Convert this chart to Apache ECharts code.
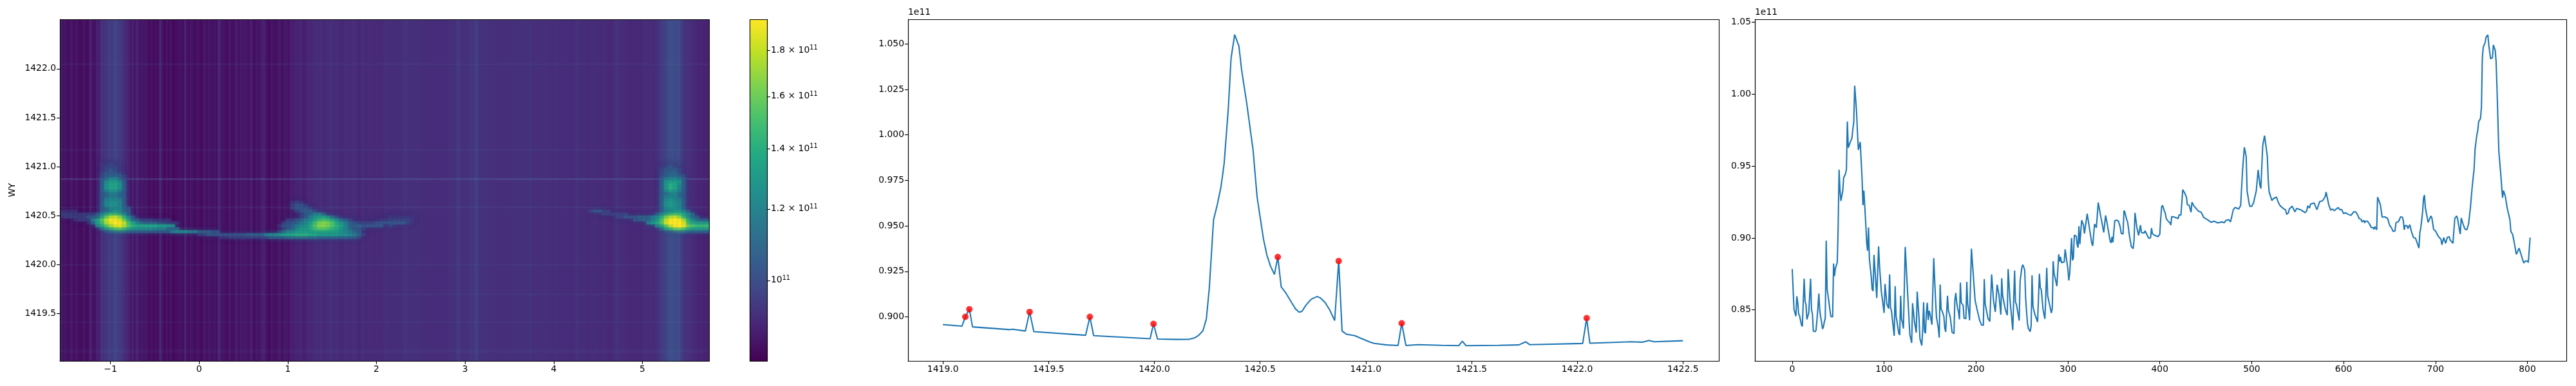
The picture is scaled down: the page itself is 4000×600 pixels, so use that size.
<!DOCTYPE html>
<html><head><meta charset="utf-8">
<script src="https://cdn.jsdelivr.net/npm/echarts@6/dist/echarts.min.js"></script>
<style>html,body{margin:0;padding:0;background:#fff}#c{width:4000px;height:600px}</style>
</head><body><div id="c"></div>
<script>
// ---- data (brightness in units of 1e11) ----
const freqProfile=[[1419,.8958],[1419.09,.8949],[1419.106,.9],[1419.125,.9042],[1419.14,.8945],[1419.316,.893],[1419.33,.8932],[1419.39,.8922],[1419.41,.9027],[1419.43,.8919],[1419.675,.8899],[1419.695,.9],[1419.713,.8897],[1419.98,.888],[1419.996,.8961],[1420.015,.8878],[1420.105,.8876],[1420.165,.8877],[1420.19,.8884],[1420.21,.8899],[1420.23,.8924],[1420.246,.8989],[1420.26,.9158],[1420.28,.9533],[1420.298,.9618],[1420.315,.9713],[1420.33,.9841],[1420.35,1.0146],[1420.363,1.0423],[1420.38,1.0551],[1420.4,1.0488],[1420.413,1.0355],[1420.437,1.0173],[1420.467,.9916],[1420.486,.9659],[1420.5,.9551],[1420.516,.9429],[1420.532,.9341],[1420.549,.928],[1420.568,.9233],[1420.584,.9329],[1420.6,.9165],[1420.622,.9131],[1420.65,.9077],[1420.668,.9043],[1420.685,.9026],[1420.698,.903],[1420.717,.9064],[1420.742,.9097],[1420.77,.9112],[1420.785,.9104],[1420.807,.908],[1420.83,.9037],[1420.853,.898],[1420.872,.9307],[1420.888,.8922],[1420.908,.8905],[1420.948,.8897],[1420.98,.8881],[1421.016,.8863],[1421.04,.8854],[1421.098,.8846],[1421.153,.8843],[1421.17,.8965],[1421.19,.8843],[1421.248,.8847],[1421.357,.8844],[1421.44,.8842],[1421.457,.8866],[1421.474,.8842],[1421.63,.8844],[1421.724,.8846],[1421.757,.8863],[1421.776,.8847],[1422.026,.8854],[1422.045,.8993],[1422.06,.8855],[1422.255,.8863],[1422.31,.8861],[1422.34,.887],[1422.364,.8863],[1422.5,.8869]];
const peakFreq=[1419.106,1419.125,1419.41,1419.695,1419.996,1420.584,1420.872,1421.17,1422.045];
const peakVal=[.9,.9042,.9027,.9,.8961,.9329,.9307,.8965,.8993];
const peakStripe=[.07,.07,.08,.08,.09,.12,.3,.1,.1];
const timeProfile=[[0,.8784],[2,.8501],[3,.8479],[4,.8456],[5,.8595],[6,.8553],[7,.8471],[8,.846],[10,.8397],[11,.8385],[12,.839],[13,.8717],[14,.856],[15,.8538],[16,.8434],[18,.8479],[20,.8717],[21,.8501],[22,.8471],[23,.8352],[24,.836],[25,.8349],[26,.836],[27,.8352],[28,.8516],[29,.8613],[30,.8494],[31,.8449],[32,.8412],[33,.8367],[34,.8382],[35,.8419],[36,.8442],[37,.8982],[38,.8643],[40,.8553],[41,.8501],[42,.8454],[44,.8452],[45,.8822],[46,.8735],[47,.8789],[48,.8792],[49,.8829],[50,.9076],[51,.9475],[52,.9329],[53,.9258],[54,.9258],[55,.9329],[56,.9419],[58,.9446],[59,.9478],[60,.981],[61,.9628],[62,.9631],[63,.9665],[65,.9695],[66,.9757],[67,.9807],[68,1.006],[70,.9881],[71,.9732],[72,.9613],[73,.961],[74,.9668],[76,.9419],[77,.9228],[78,.9329],[80,.9105],[81,.8971],[82,.8911],[83,.9073],[84,.8852],[86,.8733],[87,.8643],[88,.8631],[89,.8882],[91,.8688],[92,.8583],[93,.8576],[94,.8941],[95,.8807],[97,.8627],[98,.858],[99,.8577],[100,.8479],[101,.868],[102,.868],[103,.8541],[104,.8538],[105,.8509],[106,.8747],[107,.8516],[108,.8494],[109,.8434],[111,.832],[112,.8665],[113,.8456],[114,.8419],[116,.8337],[117,.8325],[118,.8598],[119,.8434],[120,.8412],[121,.837],[123,.8938],[125,.8688],[127,.8449],[128,.8329],[130,.827],[131,.8546],[133,.8419],[134,.8419],[135,.8342],[136,.8627],[138,.8442],[139,.83],[141,.8252],[142,.836],[143,.8553],[144,.8352],[145,.8337],[146,.8479],[147,.855],[148,.8429],[149,.8494],[150,.8471],[152,.8397],[154,.886],[156,.8568],[157,.8449],[159,.8374],[160,.8307],[161,.8676],[162,.8506],[163,.8494],[165,.8456],[166,.8374],[167,.8347],[169,.8598],[170,.8494],[172,.8449],[174,.8344],[176,.8334],[177,.8568],[178,.8618],[179,.8553],[180,.8512],[181,.8486],[182,.8434],[183,.869],[184,.855],[186,.8531],[187,.8442],[189,.8439],[190,.8695],[191,.8538],[192,.8494],[193,.8427],[195,.8926],[198,.8657],[199,.8568],[201,.8508],[202,.8508],[204,.8426],[205,.8426],[206,.8396],[208,.8392],[209,.8714],[210,.8541],[212,.8475],[213,.8441],[215,.8419],[217,.8747],[219,.8568],[221,.8486],[223,.8675],[225,.8605],[227,.8466],[228,.872],[229,.8598],[230,.8595],[232,.8501],[234,.8463],[235,.8784],[237,.8568],[239,.8433],[240,.8359],[242,.8774],[243,.8553],[244,.8538],[247,.8426],[248,.8702],[250,.8799],[251,.8814],[253,.8777],[254,.8583],[256,.8404],[257,.837],[258,.8362],[259,.8349],[260,.8389],[261,.874],[262,.8523],[264,.847],[267,.8416],[269,.8751],[270,.8654],[271,.8642],[273,.85],[275,.8437],[276,.8441],[277,.8792],[278,.8598],[279,.8595],[282,.8478],[283,.8508],[284,.8839],[285,.8754],[288,.8665],[290,.8886],[291,.8836],[292,.8869],[293,.8829],[296,.8833],[297,.8921],[299,.8829],[300,.8784],[301,.8705],[302,.8754],[303,.8754],[304,.9],[305,.8844],[306,.8863],[307,.902],[309,.9012],[310,.8956],[311,.8933],[312,.9082],[313,.8956],[315,.9123],[317,.909],[318,.9031],[321,.9169],[324,.9045],[326,.8963],[327,.8945],[329,.9097],[331,.9072],[333,.9247],[334,.9239],[336,.9142],[339,.9038],[340,.903],[341,.9157],[343,.909],[346,.8978],[347,.8966],[348,.9008],[349,.897],[351,.912],[353,.9124],[355,.9117],[357,.9075],[358,.9033],[360,.9027],[361,.9191],[362,.918],[364,.9127],[365,.9112],[367,.9015],[369,.8941],[371,.8926],[372,.8986],[373,.9175],[375,.9075],[377,.9018],[379,.909],[380,.9038],[383,.9035],[384,.905],[386,.9023],[388,.8997],[390,.9003],[391,.9068],[392,.903],[394,.902],[396,.9015],[398,.9008],[400,.9027],[401,.9135],[402,.9217],[403,.9227],[405,.9187],[406,.9172],[407,.9135],[409,.9117],[411,.9105],[412,.909],[413,.915],[416,.9145],[420,.9135],[421,.9161],[423,.916],[425,.9336],[427,.9314],[429,.9284],[430,.9232],[432,.9227],[434,.9179],[435,.9249],[437,.9224],[438,.9217],[442,.9187],[445,.9179],[448,.9142],[452,.9127],[456,.9109],[459,.9117],[463,.9105],[468,.9112],[470,.9105],[472,.9123],[475,.9127],[477,.9112],[480,.9197],[482,.9212],[483,.9212],[486,.9202],[488,.9227],[490,.9463],[492,.9631],[494,.9567],[495,.9329],[497,.9247],[498,.922],[500,.922],[502,.9245],[503,.9243],[505,.9329],[507,.9473],[509,.9366],[510,.9344],[512,.9642],[514,.9712],[515,.9709],[517,.9567],[518,.9403],[519,.9321],[520,.9317],[522,.9261],[524,.9276],[525,.9273],[527,.9284],[529,.9247],[531,.9224],[535,.9202],[537,.9195],[538,.9164],[540,.9175],[541,.9202],[542,.9194],[544,.9221],[545,.9218],[547,.9182],[549,.9206],[552,.9199],[554,.9194],[555,.9197],[558,.9176],[560,.9191],[561,.9224],[563,.9209],[564,.9236],[568,.9243],[570,.9212],[571,.9197],[574,.9254],[577,.9258],[580,.9287],[581,.932],[582,.9314],[584,.9227],[586,.9194],[588,.9201],[590,.919],[594,.9212],[596,.9197],[598,.9197],[600,.9169],[602,.9176],[604,.9168],[608,.9157],[611,.9182],[613,.9182],[615,.9165],[616,.9167],[617,.9135],[619,.913],[620,.9112],[622,.9122],[623,.9105],[624,.9117],[626,.9117],[629,.909],[630,.9072],[632,.9072],[633,.906],[634,.9079],[636,.9057],[637,.9284],[638,.9279],[640,.9232],[642,.9145],[645,.9147],[646,.915],[648,.9135],[649,.9132],[650,.909],[652,.9072],[654,.9045],[656,.905],[657,.9105],[660,.9117],[662,.9147],[664,.9145],[665,.912],[666,.9057],[667,.9087],[669,.9086],[670,.9065],[672,.9093],[674,.9042],[675,.9035],[676,.9003],[678,.9],[679,.8986],[680,.8993],[681,.8948],[682,.8929],[683,.9038],[684,.9068],[686,.918],[687,.9276],[688,.9299],[689,.9209],[692,.9109],[693,.9109],[695,.9153],[696,.9142],[698,.906],[699,.9063],[700,.9049],[701,.9055],[703,.9012],[706,.899],[707,.8953],[708,.8948],[709,.9003],[710,.9],[711,.8963],[713,.9005],[715,.9008],[716,.8986],[717,.8989],[719,.8963],[720,.896],[721,.9135],[723,.9154],[724,.9135],[726,.906],[727,.9027],[728,.9139],[730,.9097],[732,.9063],[734,.9056],[736,.9097],[738,.9209],[740,.9359],[742,.9478],[743,.9612],[745,.9717],[746,.9746],[747,.981],[749,.9831],[750,.991],[751,1.0254],[752,1.0328],[754,1.0358],[755,1.0396],[756,1.0403],[757,1.0413],[758,1.0343],[760,1.0246],[762,1.0254],[763,1.0343],[765,1.0306],[766,1.0224],[767,1.003],[768,.9806],[769,.9597],[771,.9448],[772,.9359],[773,.928],[774,.9329],[776,.9291],[778,.9209],[781,.9127],[782,.9048],[784,.9023],[785,.8993],[786,.8993],[788,.8886],[789,.8893],[791,.8929],[793,.8888],[794,.8884],[796,.8826],[797,.8826],[798,.8841],[799,.8847],[800,.884],[801,.8829],[802,.8829],[803,.9003]];
const heatLevels={0:.9,1:.95,2:1,3:1.05,4:1.1,5:1.15,6:1.2,7:1.25,8:1.3,9:1.35,a:1.4,b:1.45,c:1.5,d:1.55,e:1.6,f:1.65,g:1.7,h:1.75,i:1.8,j:1.85,k:1.9,l:1.95};
// [row, first column, levels] for the emission arc on the left and middle of the image
const arcRuns=[[0,9,"11211"],[1,9,"12221"],[2,9,"12321"],[3,9,"23332"],[4,9,"233332"],[5,9,"346642"],[6,9,"368863"],[7,9,"379973"],[8,9,"379973"],[9,9,"357753"],[10,9,"345543"],[11,9,"345543"],[12,9,"356653"],[13,9,"367763"],[13,52,"121"],[14,9,"367763"],[14,52,"2332"],[15,9,"3466643"],[15,52,"23332"],[16,0,"1111"],[16,9,"3457643"],[16,53,"23442"],[17,0,"222222223"],[17,9,"5799753"],[17,54,"234553"],[18,0,"12222233"],[18,8,"47cghe953"],[18,54,"235788642"],[18,74,"111111"],[19,3,"1222"],[19,7,"58chkkic743"],[19,18,"2221111"],[19,51,"2234568aba86432"],[19,72,"11222221"],[20,6,"148bgjlkhb8543"],[20,20,"3322111"],[20,50,"2334568befec97543222233333"],[20,76,"3321"],[21,8,"58bfijgca999998876"],[21,49,"13345679cffeca8644433333 21"],[22,9,"468ab9766666555444"],[22,50,"2346889bccba9764332"],[23,10,"23444333333333"],[23,24,"456665544433"],[23,49,"2456788888888876543"],[24,31,"22333333333444"],[24,45,"45667899aaa9988888776542"],[25,36,"1122222222"],[25,46,"2333344444443333333332"]];
// same for the bright feature at the right of the image
const edgeRuns=[[0,19,"121"],[1,18,"12321"],[2,18,"23332"],[3,18,"23442"],[4,18,"234432"],[5,18,"356653"],[6,18,"378873"],[7,18,"37a963"],[8,18,"37a963"],[9,18,"368753"],[10,18,"345643"],[11,18,"356643"],[12,18,"367653"],[13,18,"378763"],[14,18,"378763"],[15,18,"367763"],[16,2,"23322"],[16,18,"3567753"],[17,5,"222222"],[17,17,"3579aa864"],[18,8,"2233344"],[18,15,"4569dghe9643"],[19,12,"334457bhklkf96433"],[20,15,"579cilllia87777"],[21,17,"57bgkljdcbbbb"],[22,18,"479bca877777"],[23,20,"2344333333"]];
const heatXTicks=[-1,0,1,2,3,4,5];
const heatYTicks=[1419.5,1420,1420.5,1421,1421.5,1422];
const barTicks=[1,1.2,1.4,1.6,1.8];
const freqXTicks=[1419,1419.5,1420,1420.5,1421,1421.5,1422,1422.5];
const freqYTicks=[.9,.925,.95,.975,1,1.025,1.05];
const timeXTicks=[0,100,200,300,400,500,600,700,800];
const timeYTicks=[.85,.9,.95,1,1.05];
const viridis=['#440154','#482475','#414487','#355f8d','#2a788e','#21918c','#22a884','#44bf70','#7ad151','#bddf26','#fde725'];
const VMIN=.814,VMAX=1.948;
// ---- helpers ----
const rgb=h=>[1,3,5].map(i=>parseInt(h.substr(i,2),16));
function colorOf(v){let t=Math.log(v/VMIN)/Math.log(VMAX/VMIN);t=Math.max(0,Math.min(.9999,t))*(viridis.length-1);const i=Math.floor(t),f=t-i,a=rgb(viridis[i]),b=rgb(viridis[i+1]);return 'rgb('+a.map((c,k)=>Math.round(c+(b[k]-c)*f)).join(',')+')';}
// bright columns sit lower in the image than in the mean profile, which carries the arc's emission
const columnShade=v=>v>.9?.9+(v-.9)*.72:v;
const P={heat:[93,30,1008,531],bar:[1164,30,27,531],freq:[1410,30,1259,531],time:[2725,30,1260,531]};
const font={fontFamily:'DejaVu Sans',fontSize:13.9,color:'#000'};
const line={show:true,onZero:false,lineStyle:{color:'#000',width:1.1}};
const tick=c=>({show:true,length:5,lineStyle:{color:'#000',width:1.1},customValues:c});
const lab=(c,f)=>Object.assign({show:true,customValues:c,formatter:f,margin:6},font);
const grid=k=>({left:P[k][0],top:P[k][1],width:P[k][2],height:P[k][3],containLabel:false});
function axis(gi,min,max,c,f,extra){return Object.assign({type:'value',gridIndex:gi,min,max,axisLine:line,axisTick:tick(c),axisLabel:lab(c,f),splitLine:{show:false}},extra||{});}
const hidden=(gi,min,max)=>({type:'value',gridIndex:gi,min,max,show:false,splitLine:{show:false}});
const HX0=-1.571,HY0=1419.015,HY1=1422.505,STEPX=.05,STEPY=.03,TOPY=1421.04;
function cells(runs,x0){const o=[];runs.forEach(r=>{[...r[2]].forEach((ch,i)=>{if(!(ch in heatLevels))return;const xa=x0+(r[1]+i)*STEPX,ya=TOPY-r[0]*STEPY;o.push([xa,xa+STEPX,ya-STEPY,ya,heatLevels[ch]]);});});return o;}
const cellData=cells(arcRuns,HX0).concat(cells(edgeRuns,4.292)).sort((a,b)=>a[4]-b[4]);
const colData=timeProfile.slice(0,-1).map((p,k)=>[p[0],timeProfile[k+1][0],p[1]]);
const rect=(api,a,b,st,snap)=>{const p=api.coord(a),q=api.coord(b);let x0=Math.min(p[0],q[0]),x1=Math.max(p[0],q[0]);const y0=Math.min(p[1],q[1]),y1=Math.max(p[1],q[1]);if(snap){x0=Math.round(x0);x1=Math.max(x0+1,Math.round(x1));}return {type:'rect',shape:{x:x0,y:y0,width:x1-x0,height:y1-y0},style:st};};
const frame=k=>({type:'rect',z:100,silent:true,shape:{x:P[k][0]+.5,y:P[k][1]+.5,width:P[k][2],height:P[k][3]},style:{fill:'none',stroke:'#000',lineWidth:1.1}});
const option={animation:false,backgroundColor:'#fff',
 title:[{text:'1e11',left:1410,top:12,textStyle:Object.assign({fontWeight:'normal'},font),padding:0},{text:'1e11',left:2725,top:12,textStyle:Object.assign({fontWeight:'normal'},font),padding:0}],
 grid:[grid('heat'),grid('bar'),grid('freq'),grid('time')],
 xAxis:[axis(0,HX0,5.752,heatXTicks,v=>String(v).replace('-','\u2212')),hidden(0,0,803),hidden(1,0,1),axis(2,1418.835,1422.67,freqXTicks,v=>v.toFixed(1)),axis(3,-40.6,842.4,timeXTicks,v=>String(v))],
 yAxis:[axis(0,HY0,HY1,heatYTicks,v=>v.toFixed(1),{name:'WY',nameLocation:'middle',nameGap:67,nameTextStyle:font}),
  Object.assign(axis(1,Math.log10(VMIN),Math.log10(VMAX),barTicks.map(Math.log10),v=>{const b=Math.pow(10,v);return Math.abs(b-1)<.001?'{a|10}{s|11}':'{a|'+b.toFixed(1)+' \u00d7 10}{s|11}';}),{position:'right'}),
  axis(2,.8758,1.0635,freqYTicks,v=>v.toFixed(3)),axis(3,.8145,1.0521,timeYTicks,v=>v.toFixed(2))],
 series:[
  {type:'custom',name:'columns',xAxisIndex:1,yAxisIndex:0,clip:true,progressive:0,silent:true,data:colData,
   renderItem:(p,api)=>rect(api,[api.value(0),HY0],[api.value(1),HY1],{fill:colorOf(columnShade(api.value(2))),lineWidth:0},true)},
  {type:'custom',name:'rfi',xAxisIndex:0,yAxisIndex:0,clip:true,silent:true,data:peakFreq.map((f,i)=>[f,peakStripe[i]]),z:3,
   renderItem:(p,api)=>rect(api,[HX0,api.value(0)-.009],[5.752,api.value(0)+.009],{fill:'#5a7ab0',opacity:api.value(1)})},
  {type:'custom',name:'emission',xAxisIndex:0,yAxisIndex:0,clip:true,progressive:0,silent:true,data:cellData,z:4,
   renderItem:(p,api)=>{const v=api.value(4),c=colorOf(v);return rect(api,[api.value(0),api.value(2)],[api.value(1),api.value(3)],{fill:c,shadowBlur:7,shadowColor:c,opacity:v<1.02?.55:v<1.12?.75:1});}},
  {type:'custom',name:'colorbar',xAxisIndex:2,yAxisIndex:1,clip:true,silent:true,data:[[Math.log10(VMIN),Math.log10(VMAX)]],
   renderItem:(p,api)=>rect(api,[0,api.value(0)],[1,api.value(1)],{fill:new echarts.graphic.LinearGradient(0,1,0,0,viridis.map((c,i)=>({offset:i/(viridis.length-1),color:c})))})},
  {type:'line',name:'frequency',xAxisIndex:3,yAxisIndex:2,data:freqProfile,showSymbol:false,symbol:'none',smooth:false,lineStyle:{color:'#1f77b4',width:2.08},z:3},
  {type:'scatter',name:'peaks',xAxisIndex:3,yAxisIndex:2,data:peakFreq.map((f,i)=>[f,peakVal[i]]),symbol:'circle',symbolSize:10,itemStyle:{color:'#ff0000'},z:4},
  {type:'line',name:'time',xAxisIndex:4,yAxisIndex:3,data:timeProfile,showSymbol:false,symbol:'none',smooth:false,lineStyle:{color:'#1f77b4',width:2.08},z:3}
 ],
 graphic:[frame('heat'),frame('bar'),frame('freq'),frame('time')]
};
option.yAxis[1].axisLabel.rich={a:Object.assign({},font),s:{fontFamily:'DejaVu Sans',fontSize:9.7,color:'#000',verticalAlign:'bottom',padding:[0,0,7,0]}};
echarts.init(document.getElementById('c'),null,{renderer:'canvas'}).setOption(option);
</script></body></html>
